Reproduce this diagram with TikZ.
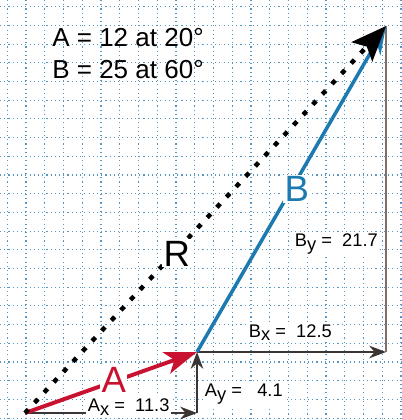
\documentclass[tikz,border=0pt]{standalone}
\usepackage{fontspec}
\setmainfont{Liberation Sans}
\usetikzlibrary{arrows.meta}
\definecolor{vecred}{RGB}{200,18,48}
\definecolor{vecblue}{RGB}{28,122,176}
\definecolor{gridblue}{RGB}{88,152,192}
\definecolor{compgray}{RGB}{58,52,50}
\definecolor{sidegray}{RGB}{125,112,104}
\newcommand{\sub}[1]{\raisebox{-0.35ex}{#1}}

\begin{document}
\begin{tikzpicture}[x=0.025cm, y=-0.025cm,
  gridline/.style={gridblue, line width=0.8pt, dash pattern=on 0.8pt off 2.2pt},
  comp/.style={compgray, line width=1.1pt, -{Stealth[length=12pt, width=9pt]}},
  side/.style={sidegray, line width=1.5pt},
  vecA/.style={vecred, line width=2.8pt, -{Stealth[length=23pt, width=16pt, inset=6pt]}},
  vecB/.style={vecblue, line width=2.5pt, -{Stealth[length=20pt, width=14pt]}},
  vecR/.style={black, line width=3.2pt, dash pattern=on 3.5pt off 6.5pt,
    -{Stealth[length=25pt, width=20pt, inset=5pt]}},
  big/.style={font=\fontsize{26}{30}\selectfont, anchor=base west, fill=white, inner sep=1pt},
  eq/.style={font=\fontsize{18.5}{22}\selectfont, anchor=base west, inner sep=0pt},
  val/.style={font=\fontsize{13}{15}\selectfont, anchor=base west, fill=white, inner sep=1.2pt}]
\useasboundingbox (0,0) rectangle (401,420);
\fill[white] (0,0) rectangle (401,420);
\foreach \k in {0,...,21}
  \draw[gridline] ({7.3+18.75*\k},0) -- ({7.3+18.75*\k},420);
\foreach \k in {0,...,22}
  \draw[gridline] (0,{6.7+18.7*\k}) -- (401,{6.7+18.7*\k});
\coordinate (O) at (25,413);
\coordinate (Atip) at (197,352);
\coordinate (Btip) at (386,26);
\coordinate (Acorner) at (O -| Atip);
\coordinate (Bcorner) at (Atip -| Btip);
\draw[comp] (O) -- (Acorner);
\draw[comp] (Acorner) -- (Atip);
\draw[comp] (Atip) -- (Bcorner);
\draw[side] (Bcorner) -- (Btip);
\node[val] (ax) at (86,411.7) {A\sub{x} =\ \ 11.3};
\node[val] (ay) at (203,396.7) {A\sub{y} =\ \ \ 4.1};
\node[val] (bx) at (247,337) {B\sub{x} =\ \ 12.5};
\node[val] (by) at (293,246.7) {B\sub{y} =\ \ 21.7};
\draw[vecB] (Atip) -- (Btip);
\draw[vecA] (O) -- (Atip);
\draw[vecR] (O) -- (Btip);
\node[eq] (eqA) at (52,46.7) {A = 12 at 20°};
\node[eq] (eqB) at (52,78.3) {B = 25 at 60°};
\node[big, text=vecblue] (labB) at (283,201.7) {B};
\node[big] (labR) at (162,266) {R};
\node[big, text=vecred] (labA) at (100,392.7) {A};
\end{tikzpicture}
\end{document}
